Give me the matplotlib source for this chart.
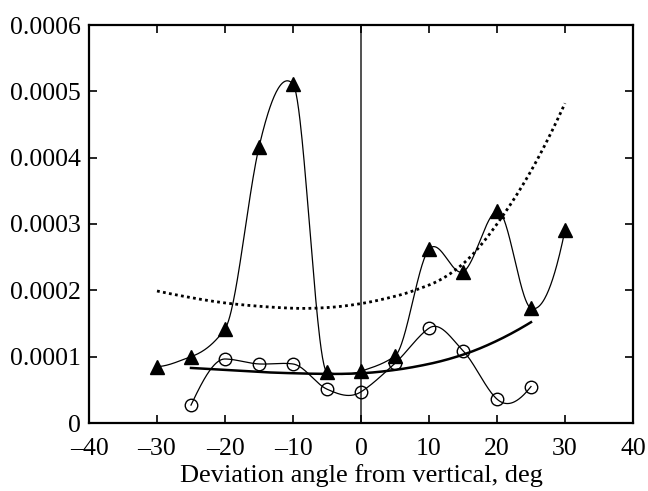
import numpy as np
import matplotlib
matplotlib.use("Agg")
import matplotlib.pyplot as plt

plt.rcParams['font.family'] = ['Liberation Serif', 'DejaVu Serif']

# Data
tri_x = [-30, -25, -20, -15, -10, -5, 0, 5, 10, 15, 20, 25, 30]
tri_y = [0.000085, 0.000100, 0.000142, 0.000416, 0.000511, 0.000077, 0.000078,
         0.000101, 0.000262, 0.000228, 0.000320, 0.000173, 0.000291]

circ_x = [-25, -20, -15, -10, -5, 0, 5, 10, 15, 20, 25]
circ_y = [0.000027, 0.0000965, 0.000089, 0.000089, 0.000051, 0.000047,
          0.000090, 0.000143, 0.000109, 0.000036, 0.000055]

solid_x = [-25, -20, -15, -10, -5, 0, 5, 10, 15, 20, 25]
solid_y = [0.000083, 0.000080, 0.000077, 0.000075, 0.000074, 0.000075,
           0.000080, 0.000089, 0.000103, 0.000124, 0.000152]

dot_x = [-30, -25, -20, -15, -10, -5, 0, 5, 10, 15, 20, 25, 30]
dot_y = [0.000199, 0.000189, 0.000181, 0.000176, 0.000173, 0.000174, 0.000180,
         0.000191, 0.000208, 0.000240, 0.000300, 0.000380, 0.000482]

xticks = [-40, -30, -20, -10, 0, 10, 20, 30, 40]
yticks = [0, 0.0001, 0.0002, 0.0003, 0.0004, 0.0005, 0.0006]
yticklabels = ['0', '0.0001', '0.0002', '0.0003', '0.0004', '0.0005', '0.0006']
xlabel = 'Deviation angle from vertical, deg'


def akima(x, y, n=600):
    x = np.asarray(x, float); y = np.asarray(y, float)
    h = np.diff(x)
    m = np.diff(y) / h
    mm = np.concatenate([[3 * m[0] - 2 * m[1], 2 * m[0] - m[1]], m,
                         [2 * m[-1] - m[-2], 3 * m[-1] - 2 * m[-2]]])
    k = len(x)
    t = np.zeros(k)
    for i in range(k):
        m1, m2, m3, m4 = mm[i], mm[i + 1], mm[i + 2], mm[i + 3]
        w1 = abs(m4 - m3); w2 = abs(m2 - m1)
        if w1 + w2 < 1e-20:
            t[i] = 0.5 * (m2 + m3)
        else:
            t[i] = (w1 * m2 + w2 * m3) / (w1 + w2)
    xs = np.linspace(x[0], x[-1], n)
    idx = np.clip(np.searchsorted(x, xs) - 1, 0, k - 2)
    hh = h[idx]
    s = (xs - x[idx]) / hh
    h00 = 2 * s ** 3 - 3 * s ** 2 + 1
    h10 = s ** 3 - 2 * s ** 2 + s
    h01 = -2 * s ** 3 + 3 * s ** 2
    h11 = s ** 3 - s ** 2
    ys = h00 * y[idx] + h10 * hh * t[idx] + h01 * y[idx + 1] + h11 * hh * t[idx + 1]
    return xs, ys


fig = plt.figure(figsize=(6.48, 4.91), dpi=100)
ax = fig.add_axes([89 / 648, 1 - 423 / 491, (633 - 89) / 648, (423 - 25) / 491])

ax.axvline(0, color='#333333', lw=1.2, zorder=1)

sx, sy = akima(dot_x, dot_y)
ax.plot(sx, sy, color='black', lw=2.0, linestyle=(0, (1, 1.2)), zorder=2)

sx, sy = akima(solid_x, solid_y)
ax.plot(sx, sy, color='black', lw=1.8, zorder=2)

sx, sy = akima(tri_x, tri_y)
ax.plot(sx, sy, color='black', lw=0.9, zorder=3)
ax.plot(tri_x, tri_y, linestyle='none', marker='^', markersize=10,
        color='black', zorder=4)

sx, sy = akima(circ_x, circ_y)
ax.plot(sx, sy, color='black', lw=0.9, zorder=3)
ax.plot(circ_x, circ_y, linestyle='none', marker='o', markersize=9,
        markerfacecolor='none', markeredgecolor='black', markeredgewidth=1.0, zorder=4)

ax.set_xlim(-40, 40)
ax.set_ylim(0, 0.0006)
ax.set_xticks(xticks)
ax.set_xticklabels([str(t).replace('-', '\u2013') for t in xticks])
ax.set_yticks(yticks)
ax.set_yticklabels(yticklabels)
ax.tick_params(direction='in', length=6, width=1.2, top=True, right=True,
               labelsize=18.5, colors='black', pad=6)
ax.tick_params(axis='x', pad=11)
for s in ax.spines.values():
    s.set_linewidth(1.6)
ax.set_xlabel(xlabel, fontsize=19, labelpad=3)

fig.savefig('out.png', dpi=100)
